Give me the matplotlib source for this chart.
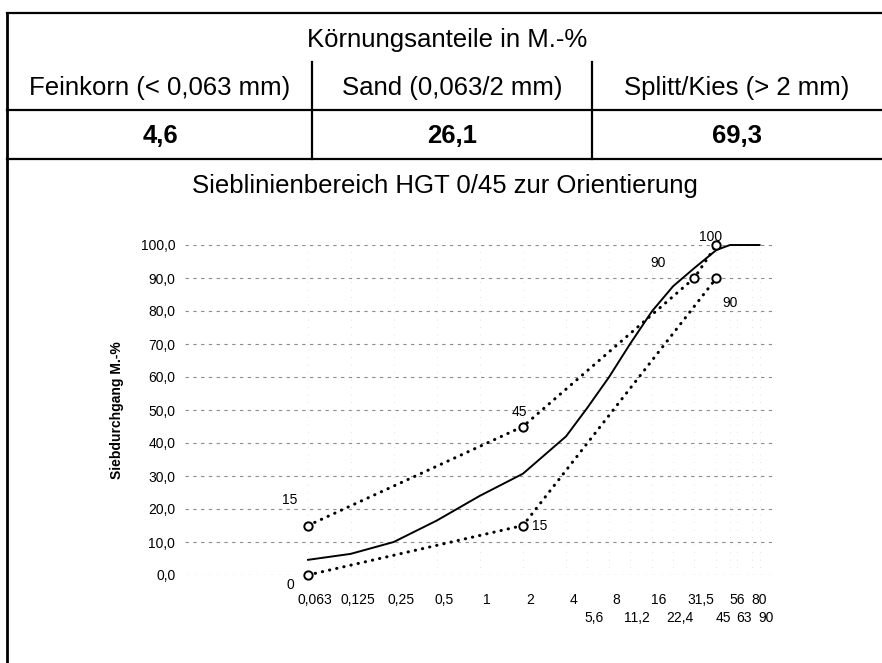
import matplotlib.pyplot as plt
from matplotlib.lines import Line2D
from matplotlib import font_manager

# --- data -------------------------------------------------------------
anteil_labels = ["Feinkorn (< 0,063 mm)", "Sand (0,063/2 mm)", "Splitt/Kies (> 2 mm)"]
anteil_werte = [4.6, 26.1, 69.3]

sieb_mm = [0.063, 0.125, 0.25, 0.5, 1, 2, 4, 5.6, 8, 11.2, 16, 22.4, 31.5, 45, 56, 63, 90]
durchgang = [4.6, 6.4, 10.0, 16.5, 24.0, 30.7, 42.0, 50.5, 60.0, 70.0, 80.0, 87.5, 93.0, 98.5, 100, 100, 100]

ober_mm = [0.063, 2, 31.5, 45]
ober_wert = [15, 45, 90, 100]
unter_mm = [0.063, 2, 45]
unter_wert = [0, 15, 90]

x_oben = [0.063, 0.125, 0.25, 0.5, 1, 2, 4, 8, 16, 31.5, 56, 80]
x_unten = [5.6, 11.2, 22.4, 45, 63, 90]
y_ticks = [0, 10, 20, 30, 40, 50, 60, 70, 80, 90, 100]

# --- fonts ------------------------------------------------------------
names = {f.name for f in font_manager.fontManager.ttflist}
NARROW = "Liberation Sans Narrow" if "Liberation Sans Narrow" in names else "Liberation Sans"
nsize = 11 if NARROW == "Liberation Sans Narrow" else 10
plt.rcParams["font.family"] = ["Liberation Sans", "DejaVu Sans"]

W, H = 882, 663
fig = plt.figure(figsize=(W / 100, H / 100), dpi=100)
fig.set_facecolor("white")


def fx(px):
    return px / W


def fy(py):
    return 1 - py / H


def frame(x0, y0, x1, y1, lw=1.6):
    fig.add_artist(Line2D([fx(x0), fx(x1)], [fy(y0), fy(y1)], color="k", lw=lw))


# --- table ------------------------------------------------------------
frame(7, 13, 882, 13)
frame(7, 13, 7, 663, lw=2)
frame(7, 110, 882, 110)
frame(7, 159, 882, 159)
frame(312, 62, 312, 159)
frame(592, 62, 592, 159)

fig.text(fx(447), fy(40), "Körnungsanteile in M.-%", ha="center", va="center", fontsize=18.5)
col_x = [160, 452, 737]
for cx, lab, val in zip(col_x, anteil_labels, anteil_werte):
    fig.text(fx(cx), fy(88), lab, ha="center", va="center", fontsize=18.5)
    fig.text(fx(cx), fy(136), f"{val:.1f}".replace(".", ","), ha="center", va="center",
             fontsize=18.5, fontweight="bold")

fig.text(fx(445), fy(186), "Sieblinienbereich HGT 0/45 zur Orientierung",
         ha="center", va="center", fontsize=18.5)

# --- chart ------------------------------------------------------------
ax = fig.add_axes([fx(185), fy(575), (772 - 185) / W, (575 - 245) / H])
ax.set_xscale("log")
ax.set_xlim(0.0087, 110)
ax.set_ylim(0, 100)
for s in ax.spines.values():
    s.set_visible(False)

for v in y_ticks:
    ax.axhline(v, color="0.55", lw=0.8, ls=(0, (3, 4)), zorder=0)
for v in x_oben + x_unten:
    ax.axvline(v, color="0.85", lw=0.6, ls=(0, (1, 8)), zorder=0)

ax.set_yticks(y_ticks)
ax.set_yticklabels([f"{v:.1f}".replace(".", ",") for v in y_ticks], fontsize=10)
ax.tick_params(axis="y", length=0, pad=7)
ax.set_xticks([])
ax.minorticks_off()
ax.set_ylabel("Siebdurchgang M.-%", fontsize=10, fontweight="bold", labelpad=12)

ax.plot(sieb_mm, durchgang, color="k", lw=1.4, clip_on=False, zorder=3)
ax.plot(ober_mm, ober_wert, color="k", lw=2.2, ls=(0, (0.1, 2.3)), dash_capstyle="round",
        marker="o", ms=6, mfc="white", mec="k", mew=1.4, clip_on=False, zorder=4)
ax.plot(unter_mm, unter_wert, color="k", lw=2.2, ls=(0, (0.1, 2.3)), dash_capstyle="round",
        marker="o", ms=6, mfc="white", mec="k", mew=1.4, clip_on=False, zorder=4)

# point labels
ober_off = [(-18, 26), (-4, 14), (-36, 15), (-6, 8)]
unter_off = [(-18, -10), (17, 0), (14, -25)]
for x, y, off in zip(ober_mm, ober_wert, ober_off):
    ax.annotate(f"{y}", (x, y), xytext=off, textcoords="offset pixels", ha="center",
                va="center", fontsize=nsize, family=NARROW, zorder=5)
for x, y, off in zip(unter_mm, unter_wert, unter_off):
    ax.annotate(f"{y}", (x, y), xytext=off, textcoords="offset pixels", ha="center",
                va="center", fontsize=nsize, family=NARROW, zorder=5)

# sieve size labels in two rows
xt = ax.get_xaxis_transform()
for row, dy in ((x_oben, -25), (x_unten, -43)):
    for v in row:
        lab = f"{v:g}".replace(".", ",")
        ax.annotate(lab, (v, 0), xycoords=xt, xytext=(7, dy), textcoords="offset pixels",
                    ha="center", va="center", fontsize=nsize, family=NARROW)

plt.savefig("out.png", dpi=100)
